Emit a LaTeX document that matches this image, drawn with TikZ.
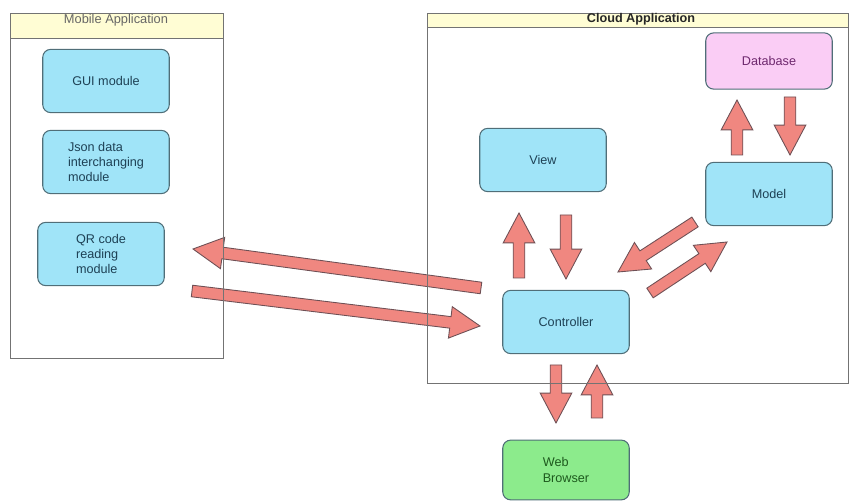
\documentclass[tikz,border=0pt]{standalone}
\usepackage{fontspec}
\setmainfont{Liberation Sans}
\usetikzlibrary{calc}

\definecolor{modfill}{RGB}{160,228,248}
\definecolor{modline}{RGB}{80,110,120}
\definecolor{modtext}{RGB}{30,65,85}
\definecolor{dbfill}{RGB}{250,205,245}
\definecolor{dbtext}{RGB}{110,40,110}
\definecolor{webfill}{RGB}{140,235,140}
\definecolor{webtext}{RGB}{30,90,30}
\definecolor{arrfill}{RGB}{240,135,128}
\definecolor{arrline}{RGB}{110,80,85}
\definecolor{headfill}{RGB}{255,253,212}

% fat block arrow from #1 (tail) to #2 (tip)
\newcommand{\fatarrow}[2]{%
  \coordinate (fa-h) at ($(#2)!17pt!(#1)$);
  \filldraw[fatarrow] ($(#1)!3.3pt!90:(#2)$) -- ($(fa-h)!3.3pt!-90:(#1)$)
    -- ($(fa-h)!9pt!-90:(#1)$) -- (#2) -- ($(fa-h)!9pt!90:(#1)$)
    -- ($(fa-h)!3.3pt!90:(#1)$) -- ($(#1)!3.3pt!-90:(#2)$) -- cycle;
}

\begin{document}
\begin{tikzpicture}[x=0.02cm,y=-0.02cm,
  module/.style={draw=modline,fill=modfill,text=modtext,rounded corners=4.5pt,line width=0.6pt,
    minimum width=72pt,minimum height=36pt,font=\fontsize{7.2}{8.6}\selectfont},
  fatarrow/.style={fill=arrfill,draw=arrline,line width=0.5pt,line join=miter},
  frame/.style={draw=black!55,line width=0.4pt}]
  \useasboundingbox (0,0) rectangle (849,502);

  % mobile side
  \node[module] (gui) at (106,81) {GUI module};
  \node[module,align=left] (json) at (106,162) {Json data\\interchanging\\ module};
  \node[module,align=left] (qr) at (101,254) {QR code\\reading\\module};

  % cloud side
  \node[module] (view) at (543,160) {View};
  \node[module,fill=dbfill,text=dbtext,minimum height=32pt] (db) at (769,61) {Database};
  \node[module] (model) at (769,194) {Model};
  \node[module] (ctrl) at (566,322) {Controller};
  \node[module,fill=webfill,text=webtext,minimum height=34pt,align=left] (web) at (566,470) {Web\\Browser};

  % arrow ends
  \coordinate (qrIn) at (193,249);   \coordinate (ctrlOut) at (481,288);
  \coordinate (qrOut) at (192,291);  \coordinate (ctrlIn) at (480,326);
  \coordinate (vUpT) at (519,278);   \coordinate (vUpH) at (519,213);
  \coordinate (vDnT) at (566,215);   \coordinate (vDnH) at (566,279);
  \coordinate (mDnT) at (695,222);   \coordinate (mDnH) at (618,272);
  \coordinate (mUpT) at (650,293);   \coordinate (mUpH) at (727,242);
  \coordinate (dUpT) at (737,155);   \coordinate (dUpH) at (737,100);
  \coordinate (dDnT) at (790,97);    \coordinate (dDnH) at (790,155);
  \coordinate (wDnT) at (556,365);   \coordinate (wDnH) at (556,423);
  \coordinate (wUpT) at (597,418);   \coordinate (wUpH) at (597,365);

  \fatarrow{ctrlOut}{qrIn}
  \fatarrow{qrOut}{ctrlIn}
  \fatarrow{vUpT}{vUpH}
  \fatarrow{vDnT}{vDnH}
  \fatarrow{mDnT}{mDnH}
  \fatarrow{mUpT}{mUpH}
  \fatarrow{dUpT}{dUpH}
  \fatarrow{dDnT}{dDnH}
  \fatarrow{wDnT}{wDnH}
  \fatarrow{wUpT}{wUpH}

  % containers
  \filldraw[frame,fill=headfill] (10,13) rectangle (223,38);
  \draw[frame] (10,13) rectangle (223,358);
  \node[text=black!60,font=\fontsize{7.3}{8}\selectfont] (mobTitle) at (116,20) {Mobile Application};
  \filldraw[frame,fill=headfill] (427,13) rectangle (848,27);
  \draw[frame] (427,13) rectangle (848,383);
  \node[text=black!85,font=\fontsize{7.2}{8}\selectfont\bfseries] (cloudTitle) at (641,19) {Cloud Application};
\end{tikzpicture}
\end{document}
